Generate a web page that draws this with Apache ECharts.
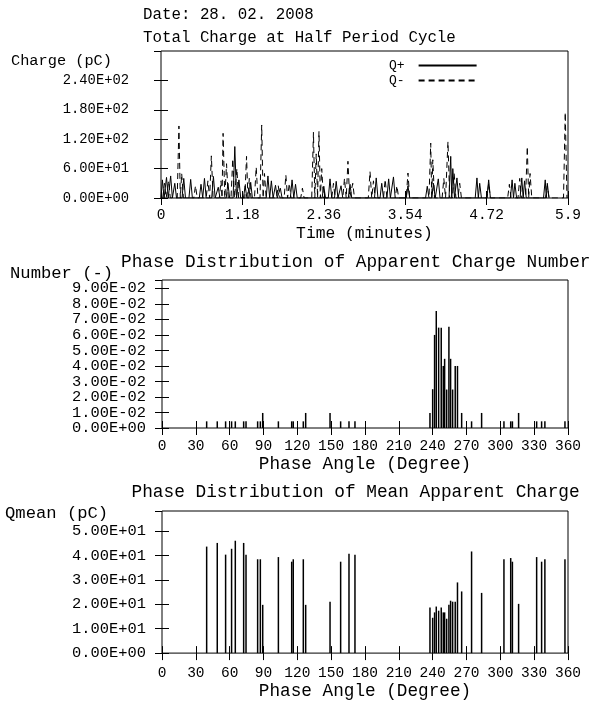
<!DOCTYPE html>
<html><head><meta charset="utf-8">
<script src="https://cdn.jsdelivr.net/npm/echarts@6/dist/echarts.min.js"></script>
<style>html,body{margin:0;padding:0;background:#fff}#c{width:589px;height:701px}</style>
</head><body><div id="c"></div>
<script>
// ---- Data ----
const timeTickLabels = ['0', '1.18', '2.36', '3.54', '4.72', '5.9'];
const phaseTickLabels = ['0','30','60','90','120','150','180','210','240','270','300','330','360'];

// Total charge at half period cycle: peak times (minutes) and peak charges (pC)
const qPlusTimes = [0.02,0.08,0.14,0.20,0.33,0.43,0.58,0.63,0.76,0.83,0.97,1.07,1.13,1.22,1.30,1.55,1.60,1.66,1.73,1.90,1.95,2.36,2.45,2.54,2.61,2.74,3.12,3.20,3.30,3.37,3.58,3.86,3.95,4.02,4.20,4.23,4.29,4.58,4.62,4.75,5.09,5.13,5.23,5.27,5.57,5.60];
const qPlusPeaks = [37,42,45,30,40,38,28,40,44,22,30,105,37,25,32,45,35,26,20,37,28,24,39,34,25,28,41,30,39,43,25,24,30,39,85,60,41,41,30,37,37,30,41,35,37,30];
const qMinusTimes = [0.05,0.11,0.26,0.30,0.50,0.68,0.73,0.87,0.90,0.95,1.04,1.10,1.24,1.28,1.38,1.46,1.50,1.70,1.81,1.86,2.05,2.21,2.25,2.29,2.33,2.50,2.66,2.71,2.78,3.03,3.08,3.25,3.42,3.58,3.91,3.94,4.10,4.16,4.25,4.33,4.75,5.05,5.20,5.31,5.35,5.60,5.86];
const qMinusPeaks = [30,35,147,50,25,35,86,35,132,70,80,60,85,40,63,149,50,25,47,30,20,134,90,136,60,30,40,75,30,54,35,38,25,51,112,78,40,115,50,30,30,28,40,105,50,25,175];

// Phase-resolved distributions (shared phase bins, degrees)
const phaseAngles = [39.6,49.0,56.4,61.7,65.0,72.4,74.5,84.8,87.2,89.3,103.2,115.0,116.4,125.3,127.4,149.0,158.4,165.8,171.1,237.6,240.0,241.7,243.2,245.3,247.6,249.4,250.6,252.4,254.4,255.9,257.7,260.0,262.0,265.7,274.5,283.4,303.2,309.2,310.7,316.2,332.2,336.6,339.5,357.3];
const chargeNumber = [0.0043,0.0043,0.0043,0.0043,0.0043,0.0043,0.0043,0.0043,0.0043,0.0097,0.0043,0.0043,0.0043,0.0043,0.0097,0.0097,0.0043,0.0043,0.0043,0.0097,0.0250,0.0600,0.0754,0.0647,0.0647,0.0400,0.0446,0.0248,0.0653,0.0446,0.0248,0.0400,0.0400,0.0097,0.0043,0.0097,0.0043,0.0043,0.0043,0.0097,0.0043,0.0043,0.0043,0.0043];
const meanCharge = [43.7,45.2,40.4,42.8,46.1,45.2,40.4,38.5,38.5,19.8,39.4,37.5,38.5,38.5,19.8,21.1,37.5,40.8,40.4,18.7,14.5,16.7,19.1,17.4,18.7,16.7,16.7,14.1,19.8,21.5,21.1,21.1,29.0,25.3,41.7,24.7,38.5,39.0,37.5,20.2,39.4,37.5,38.5,38.5];

// ---- Helpers ----
const FONT = 'Liberation Mono';
function sci(v) {
  if (Math.abs(v) < 1e-12) return '0.00E+00';
  const s = Number(v).toExponential(2).split('e');
  const e = parseInt(s[1], 10);
  return s[0] + 'E' + (e < 0 ? '-' : '+') + String(Math.abs(e)).padStart(2, '0');
}
// build spike polyline: each peak rises from and returns to the zero baseline
function spikes(times, peaks, hw) {
  const out = [];
  for (let i = 0; i < times.length; i++) {
    const t = times[i];
    if (i === 0) out.push([Math.max(0, t - hw), 0]);
    out.push([t, peaks[i]]);
    if (i < times.length - 1) {
      const n = times[i + 1];
      if (n - t > 2 * hw) { out.push([t + hw, 0]); out.push([n - hw, 0]); }
      else out.push([(t + n) / 2, 0]);
    } else out.push([t + hw, 0]);
  }
  return out;
}
const black = '#000';
const tickIn = { show: true, inside: true, length: 7, lineStyle: { color: black, width: 1 } };
const noLine = { show: false };
function topAxis(grid, min, max, interval) {
  return { type: 'value', gridIndex: grid, position: 'top', min, max, interval,
    axisLine: noLine, axisTick: tickIn, axisLabel: { show: false }, splitLine: { show: false } };
}
function rightAxis(grid, min, max, interval) {
  return { type: 'value', gridIndex: grid, position: 'right', min, max, interval,
    axisLine: noLine, axisTick: tickIn, axisLabel: { show: false }, splitLine: { show: false } };
}
const gridBox = { show: true, borderColor: black, borderWidth: 1, backgroundColor: 'transparent' };

const chart = echarts.init(document.getElementById('c'), null, { renderer: 'canvas' });
chart.setOption({
  animation: false,
  backgroundColor: '#fff',
  textStyle: { fontFamily: FONT, color: black },
  title: [
    { text: 'Date: 28. 02. 2008', left: 143, top: 7, padding: 0, textStyle: { fontFamily: FONT, fontSize: 15.8, fontWeight: 'normal', color: black } },
    { text: 'Total Charge at Half Period Cycle', left: 143, top: 30, padding: 0, textStyle: { fontFamily: FONT, fontSize: 15.8, fontWeight: 'normal', color: black } },
    { text: 'Charge (pC)', left: 11, top: 53.5, padding: 0, textStyle: { fontFamily: FONT, fontSize: 15.3, fontWeight: 'normal', color: black } },
    { text: 'Phase Distribution of Apparent Charge Number', left: 121, top: 253, padding: 0, textStyle: { fontFamily: FONT, fontSize: 17.8, fontWeight: 'normal', color: black } },
    { text: 'Number (-)', left: 10, top: 264.5, padding: 0, textStyle: { fontFamily: FONT, fontSize: 17.2, fontWeight: 'normal', color: black } },
    { text: 'Phase Distribution of Mean Apparent Charge', left: 131.5, top: 483, padding: 0, textStyle: { fontFamily: FONT, fontSize: 17.8, fontWeight: 'normal', color: black } },
    { text: 'Qmean (pC)', left: 5, top: 504.5, padding: 0, textStyle: { fontFamily: FONT, fontSize: 17.2, fontWeight: 'normal', color: black } }
  ],
  legend: {
    data: ['Q+', 'Q-'], left: 389, top: 59, orient: 'vertical', align: 'right',
    itemWidth: 58, itemHeight: 14, itemGap: 2, padding: 0,
    itemStyle: { opacity: 0 },
    textStyle: { fontFamily: FONT, fontSize: 13, color: black, padding: [8, 9, 0, 0] }
  },
  grid: [
    Object.assign({ left: 161, top: 51, width: 407, height: 147 }, gridBox),
    Object.assign({ left: 162, top: 280, width: 406, height: 148 }, gridBox),
    Object.assign({ left: 162, top: 511, width: 406, height: 147 }, gridBox)
  ],
  xAxis: [
    { type: 'value', gridIndex: 0, min: 0, max: 5.9, interval: 1.18,
      axisLine: noLine, axisTick: tickIn, splitLine: { show: false },
      axisLabel: { fontFamily: FONT, fontSize: 14.5, color: black, margin: 10,
        formatter: (v) => timeTickLabels[Math.round(v / 1.18)] },
      name: 'Time (minutes)', nameLocation: 'middle', nameGap: 28,
      nameTextStyle: { fontFamily: FONT, fontSize: 16.3, color: black } },
    topAxis(0, 0, 5.9, 1.18),
    { type: 'value', gridIndex: 1, min: 0, max: 360, interval: 30,
      axisLine: noLine, axisTick: tickIn, splitLine: { show: false },
      axisLabel: { fontFamily: FONT, fontSize: 14.5, color: black, margin: 11,
        formatter: (v) => phaseTickLabels[Math.round(v / 30)] },
      name: 'Phase Angle (Degree)', nameLocation: 'middle', nameGap: 26,
      nameTextStyle: { fontFamily: FONT, fontSize: 17.7, color: black } },
    topAxis(1, 0, 360, 30),
    { type: 'value', gridIndex: 2, min: 0, max: 360, interval: 30,
      axisLine: noLine, axisTick: tickIn, splitLine: { show: false },
      axisLabel: { fontFamily: FONT, fontSize: 14.5, color: black, margin: 13,
        formatter: (v) => phaseTickLabels[Math.round(v / 30)] },
      name: 'Phase Angle (Degree)', nameLocation: 'middle', nameGap: 25,
      nameTextStyle: { fontFamily: FONT, fontSize: 17.7, color: black } },
    topAxis(2, 0, 360, 30)
  ],
  yAxis: [
    { type: 'value', gridIndex: 0, min: 0, max: 300, interval: 60,
      axisLine: noLine, axisTick: tickIn, splitLine: { show: false },
      axisLabel: { fontFamily: FONT, fontSize: 13.8, color: black, margin: 32, showMaxLabel: false,
        padding: [10, 0, 0, 0], formatter: sci } },
    rightAxis(0, 0, 300, 60),
    { type: 'value', gridIndex: 1, min: 0, max: 0.0954, interval: 0.01,
      axisLine: noLine, axisTick: tickIn, splitLine: { show: false },
      axisLabel: { fontFamily: FONT, fontSize: 15.4, color: black, margin: 16, showMaxLabel: false,
        padding: [10, 0, 0, 0], formatter: sci } },
    rightAxis(1, 0, 0.0954, 0.01),
    { type: 'value', gridIndex: 2, min: 0, max: 58.3, interval: 10,
      axisLine: noLine, axisTick: tickIn, splitLine: { show: false },
      axisLabel: { fontFamily: FONT, fontSize: 15.4, color: black, margin: 16, showMaxLabel: false,
        padding: [10, 0, 0, 0], formatter: sci } },
    rightAxis(2, 0, 58.3, 10)
  ],
  series: [
    { name: 'Q+', type: 'line', xAxisIndex: 0, yAxisIndex: 0, symbol: 'none', clip: true,
      data: spikes(qPlusTimes, qPlusPeaks, 0.025),
      lineStyle: { color: black, width: 1, type: 'solid' }, itemStyle: { color: black } },
    { name: 'Q-', type: 'line', xAxisIndex: 0, yAxisIndex: 0, symbol: 'none', clip: true,
      data: spikes(qMinusTimes, qMinusPeaks, 0.025),
      lineStyle: { color: black, width: 1, type: [6, 4] }, itemStyle: { color: black } },
    { name: 'Number', type: 'bar', xAxisIndex: 2, yAxisIndex: 2, barWidth: 1.5,
      data: phaseAngles.map((a, i) => [a, chargeNumber[i]]), itemStyle: { color: black } },
    { name: 'Qmean', type: 'bar', xAxisIndex: 4, yAxisIndex: 4, barWidth: 1.5,
      data: phaseAngles.map((a, i) => [a, meanCharge[i]]), itemStyle: { color: black } }
  ]
});
</script></body></html>
